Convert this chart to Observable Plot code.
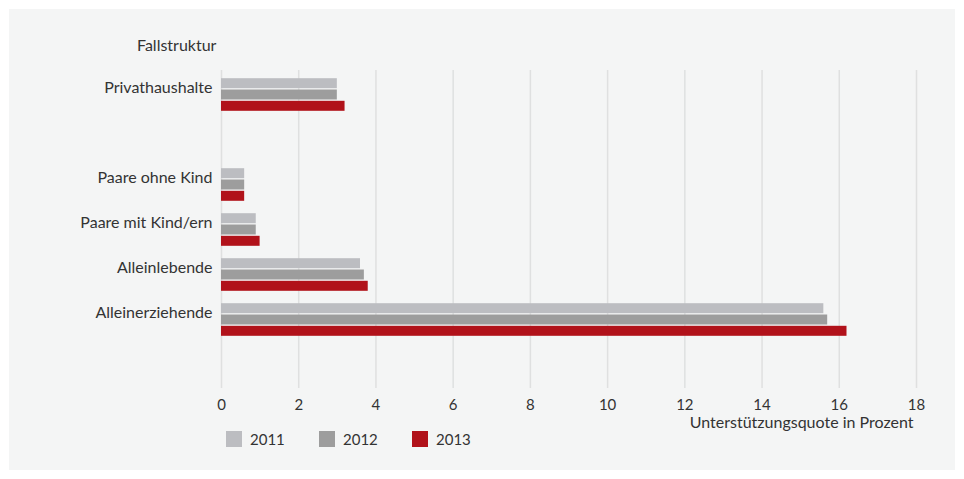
<!DOCTYPE html>
<html>
<head>
<meta charset="utf-8">
<script src="https://cdn.jsdelivr.net/npm/d3@7"></script>
<script src="https://cdn.jsdelivr.net/npm/@observablehq/plot@0.6"></script>
<style>
  html, body { margin: 0; padding: 0; background: #ffffff; }
  #wrap { position: relative; width: 964px; height: 479px; font-family: "Lato", sans-serif; color: #333; }
  #panel { position: absolute; left: 9px; top: 9px; width: 946px; height: 461px; background: #f4f5f5; }
  #chart { position: absolute; left: 0; top: 0; }
  #ylabel { position: absolute; left: 137px; top: 36px; font-size: 16px; line-height: 18px; color: #333; }
  .leg { position: absolute; top: 431px; display: flex; align-items: center; font-size: 15px; line-height: 16px; color: #333; }
  .sw { width: 16px; height: 16px; margin-right: 8px; }
</style>
</head>
<body>
<div id="wrap">
  <div id="panel"></div>
  <div id="chart"></div>
  <div id="ylabel"></div>
</div>
<script>
// ---- data ----
const categories = ["Privathaushalte", "Paare ohne Kind", "Paare mit Kind/ern", "Alleinlebende", "Alleinerziehende"];
const years = ["2011", "2012", "2013"];
const values2011 = [3.0, 0.6, 0.9, 3.6, 15.6];
const values2012 = [3.0, 0.6, 0.9, 3.7, 15.7];
const values2013 = [3.2, 0.6, 1.0, 3.8, 16.2];
const xTicks = [0, 2, 4, 6, 8, 10, 12, 14, 16, 18];
const colors = ["#bcbdc1", "#9d9d9d", "#b1121a"];
const yTitle = "Fallstruktur";
const xTitle = "Unterstützungsquote in Prozent";

// ---- build table ----
const seriesValues = [values2011, values2012, values2013];
const rows = [];
years.forEach((yr, i) => categories.forEach((c, j) => rows.push({category: c, year: yr, value: seriesValues[i][j]})));

// band domain with blank slots (gap after first group and at the end)
const yDomain = [categories[0], " ", ...categories.slice(1), "  "];

const marks = [
  Plot.ruleX(xTicks, {stroke: "#dfe0e0", strokeWidth: 1.5})
];
years.forEach((yr, i) => {
  marks.push(Plot.barX(rows.filter(d => d.year === yr), {
    x: "value", y: "category", fill: "year",
    insetTop: 17.5, insetBottom: 17.5, dy: (i - 1) * 11.3
  }));
});
marks.push(Plot.text(categories, {
  y: d => d, frameAnchor: "left", textAnchor: "end", dx: -9, dy: -7,
  fill: "#333", fontSize: 16
}));
marks.push(Plot.text([xTitle], {
  text: d => d, frameAnchor: "bottom-right", textAnchor: "end", dx: -3, dy: 39,
  fill: "#333", fontSize: 16
}));

const chart = Plot.plot({
  width: 964,
  height: 479,
  marginLeft: 221,
  marginRight: 48,
  marginTop: 70,
  marginBottom: 91,
  style: {background: "transparent", fontFamily: "Lato, sans-serif", fontSize: "15px", color: "#333", overflow: "visible"},
  x: {domain: [0, 18], ticks: xTicks, tickSize: 0, tickPadding: 11, label: null},
  y: {domain: yDomain, axis: null, padding: 0},
  color: {domain: years, range: colors},
  marks
});
document.getElementById("chart").appendChild(chart);
document.getElementById("ylabel").textContent = yTitle;

// legend
const wrap = document.getElementById("wrap");
years.forEach((yr, i) => {
  const item = document.createElement("div");
  item.className = "leg";
  item.style.left = (226 + i * 93) + "px";
  const sw = document.createElement("div");
  sw.className = "sw";
  sw.style.background = colors[i];
  const t = document.createElement("span");
  t.textContent = yr;
  item.appendChild(sw);
  item.appendChild(t);
  wrap.appendChild(item);
});
</script>
</body>
</html>
